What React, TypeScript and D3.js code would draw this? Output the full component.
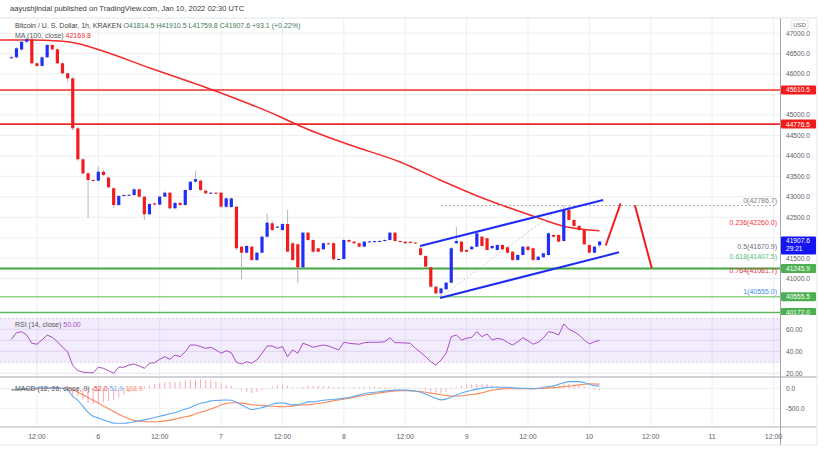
import { useEffect, useRef } from "react";
import * as d3 from "d3";

// hours are counted from Jan 6 00:00 UTC, first candle is Jan 5 07:00
const firstHour = -17;

const opens = [
  46400, 46410, 46600, 46790, 46850, 46263, 46200, 46410, 46710, 46605,
  46263, 46019, 45896, 44674, 43917, 43574, 43411, 43394, 43614, 43470,
  43210, 42800, 43020, 43040, 43044, 43184, 43003, 42572, 42841, 42810,
  43003, 43100, 42719, 42850, 42800, 43166, 43369, 43394, 43149, 43086,
  43100, 43100, 42758, 42750, 42758, 41781, 41634, 41781, 41456, 41634,
  42025, 42353, 42250, 42188, 42335, 41864, 41840, 41277, 42123, 41944,
  41742, 41717, 41864, 41864, 41473, 41480, 41944, 41903, 41864, 41781,
  41903, 41910, 41915, 41920, 41944, 42123, 41920, 41903, 41900, 41880,
  41742, 41553, 41277, 40803, 40642, 40739, 40901, 41864, 41903, 41700,
  41717, 41781, 42025, 41986, 41742, 41700, 41822, 41766, 41658, 41456,
  41578, 41781, 41742, 41456, 41522, 41578, 42067, 42067, 41920, 42678,
  42434, 42287, 42188, 41822, 41634, 41814.5,
];
const highs = [
  46450, 46660, 46830, 46900, 46880, 46290, 46430, 46740, 46740, 46630,
  46300, 46040, 45920, 44713, 43940, 43600, 43430, 43736, 43650, 43490,
  43230, 43040, 43060, 43070, 43210, 43200, 43020, 42850, 42860, 43030,
  43130, 43120, 42870, 42870, 43190, 43390, 43640, 43420, 43170, 43120,
  43120, 43120, 42990, 42990, 42790, 41800, 41820, 41800, 41660, 42050,
  42597, 42420, 42290, 42360, 42680, 41890, 41860, 42150, 42140, 41960,
  41760, 41890, 41880, 41890, 41500, 41970, 41960, 41920, 41880, 41920,
  41930, 41935, 41940, 41960, 42150, 42140, 41935, 41920, 41915, 41895,
  41760, 41570, 41290, 40820, 40780, 40920, 41770, 42260, 41920, 41720,
  41800, 42130, 42050, 42000, 41820, 41840, 41840, 41780, 41670, 41590,
  41800, 41800, 41760, 41550, 41630, 42130, 42090, 42080, 42786.7, 42780,
  42450, 42300, 42200, 41840, 41800, 41910.5,
];
const lows = [
  46370, 46380, 46570, 46760, 46230, 46170, 46180, 46390, 46580, 46240,
  45990, 45810, 44620, 43880, 43540, 42480, 43370, 43380, 43510, 43210,
  42727, 42780, 43000, 43020, 43030, 42980, 42432, 42550, 42790, 42780,
  42990, 42690, 42700, 42780, 42780, 43150, 43350, 43140, 43060, 43070,
  43060, 42730, 42720, 42730, 41700, 40984, 41610, 41420, 41430, 41610,
  42000, 42160, 42230, 42170, 41640, 41430, 40893, 41250, 41920, 41620,
  41640, 41700, 41830, 41440, 41450, 41460, 41890, 41850, 41760, 41770,
  41890, 41895, 41900, 41905, 41930, 41900, 41890, 41850, 41860, 41845,
  41560, 41270, 40780, 40600, 40555.5, 40720, 40880, 41850, 41640, 41640,
  41700, 41760, 41780, 41680, 41730, 41690, 41700, 41620, 41430, 41440,
  41560, 41680, 41430, 41440, 41510, 41560, 42010, 41890, 41900, 42420,
  42270, 42170, 41820, 41620, 41620, 41759.8,
];
const closes = [
  46410, 46630, 46790, 46850, 46263, 46197, 46410, 46710, 46605, 46263,
  46019, 45896, 44674, 43917, 43574, 43411, 43394, 43614, 43533, 43233,
  42800, 43020, 43044, 43050, 43184, 43003, 42572, 42824, 42810, 43003,
  43100, 42719, 42850, 42800, 43166, 43369, 43430, 43166, 43086, 43100,
  43080, 42758, 42963, 42960, 41742, 41634, 41798, 41456, 41634, 42025,
  42367, 42188, 42270, 42335, 41660, 41456, 41277, 42123, 41944, 41658,
  41658, 41864, 41850, 41473, 41480, 41944, 41903, 41864, 41781, 41903,
  41910, 41915, 41920, 41944, 42123, 41920, 41903, 41864, 41870, 41860,
  41578, 41292, 40803, 40642, 40760, 40901, 41742, 41920, 41658, 41658,
  41781, 42108, 41798, 41700, 41798, 41822, 41717, 41634, 41456, 41578,
  41781, 41700, 41456, 41536, 41619, 42108, 42025, 41903, 42678, 42434,
  42287, 42188, 41839, 41634, 41781, 41907.6,
];

const rsiValues = [
  50.9, 56.9, 57.8, 54.8, 47.3, 46.4, 50.3, 54.8, 52.7, 48.7,
  43.6, 39.6, 27.0, 22.4, 21.0, 20.5, 20.5, 25.5, 24.5, 22.4,
  20.0, 25.5, 25.5, 27.5, 28.4, 26.6, 24.5, 29.1, 29.6, 32.7,
  35.1, 32.7, 36.6, 35.1, 39.6, 45.7, 45.7, 44.2, 42.7, 43.6,
  41.2, 38.2, 40.5, 38.7, 30.0, 28.4, 30.5, 29.1, 32.1, 38.2,
  44.8, 44.8, 42.7, 44.2, 35.1, 41.2, 38.2, 47.3, 45.7, 43.6,
  44.8, 45.7, 44.8, 43.0, 41.2, 48.2, 47.3, 46.8, 46.4, 47.8,
  48.2, 48.2, 48.2, 48.7, 52.4, 47.8, 47.8, 47.5, 47.3, 42.7,
  39.0, 35.0, 30.5, 27.5, 32.1, 38.0, 53.3, 54.8, 50.3, 51.8,
  52.7, 57.8, 53.3, 55.7, 50.3, 51.8, 50.9, 48.0, 45.7, 48.7,
  52.4, 49.6, 46.4, 48.2, 52.0, 57.8, 56.9, 54.8, 64.8, 60.0,
  57.8, 54.8, 50.3, 46.6, 48.7, 50.0,
];

const macdValues = [
  -40, -30, -20, -10, 0, 5, 10, 10, 10, 5,
  0, -42, -200, -300, -450, -600, -700, -740, -790, -830,
  -870, -875, -875, -860, -835, -810, -790, -760, -730, -700,
  -670, -635, -610, -570, -520, -480, -420, -375, -350, -315,
  -305, -300, -292, -300, -350, -420, -480, -530, -510, -480,
  -450, -400, -370, -360, -390, -415, -410, -380, -340, -340,
  -320, -300, -285, -275, -265, -245, -230, -200, -170, -135,
  -115, -100, -85, -70, -55, -45, -42, -45, -55, -67,
  -100, -150, -200, -250, -290, -270, -220, -167, -120, -80,
  -50, -20, 0, 25, 25, 25, 25, 25, 15, 5,
  0, -5, -10, 0, 20, 45, 60, 100, 140, 167,
  167, 167, 140, 100, 67, 51.9,
];
const signalValues = [
  -40, -35, -30, -25, -20, -15, -10, -5, 0, 0,
  0, 0, -30, -100, -160, -230, -300, -370, -440, -510,
  -580, -650, -710, -760, -800, -825, -835, -835, -835, -830,
  -815, -795, -770, -740, -710, -690, -640, -600, -560, -520,
  -470, -420, -380, -360, -360, -370, -390, -410, -420, -430,
  -440, -450, -455, -460, -455, -440, -425, -417, -410, -400,
  -380, -360, -335, -310, -292, -270, -250, -225, -200, -175,
  -155, -135, -115, -95, -80, -65, -58, -60, -65, -67,
  -80, -100, -120, -140, -160, -180, -192, -192, -185, -170,
  -155, -140, -110, -80, -50, -30, -15, -10, -10, -10,
  -10, -10, -10, -5, 0, 10, 17, 30, 45, 55,
  70, 85, 100, 110, 108, 103.9,
];

const maHours = [-19.2, -13.4, -7.5, -3.6, 0.3, 10.1, 23.2, 35.5, 39.4, 49.2, 59, 66.8, 74.6, 84.4, 91.6, 98];
const maValues = [46833, 46833, 46808, 46735, 46588, 46148, 45574, 44958, 44731, 44266, 43851, 43411, 42995, 42555, 42262, 42169.8];

const resistanceLevels = [45610.5, 44776.5];
const supportLevels = [41245.9, 40555.5, 40172.0];

const fibRatios = ["0", "0.236", "0.5", "0.618", "0.764", "1"];
const fibPrices = [42786.7, 42260.0, 41670.9, 41407.5, 41081.7, 40555.0];
const fibLowPoint: [number, number] = [67, 40555.0];
const fibHighPoint: [number, number] = [91, 42786.7];
const fibEndHour = 132.3;

const channelUpper: [number, number][] = [[62.9, 41797], [98.7, 42922]];
const channelLower: [number, number][] = [[66.8, 40526], [101.8, 41643]];
const projectionUp: [number, number][] = [[99.2, 41810], [102.1, 42836]];
const projectionDown: [number, number][] = [[104.9, 42795], [108.2, 41259]];

const priceTicks = [41000, 41500, 42000, 42500, 43000, 43500, 44000, 44500, 45000, 45500, 46000, 46500, 47000];
const rsiTicks = [60, 40, 20];
const macdTicks = [0, -500];
const timeTickHours = [-12, 0, 12, 24, 36, 48, 60, 72, 84, 96, 108, 120, 132];
const timeTickLabels = ["12:00", "6", "12:00", "7", "12:00", "8", "12:00", "9", "12:00", "10", "12:00", "11", "12:00"];

export default function App() {
  const svgRef = useRef<SVGSVGElement>(null);

  useEffect(() => {
    if (!svgRef.current) return;
    const svg = d3.select(svgRef.current);
    svg.selectAll("*").remove();

    const font = "'Liberation Sans', Arial, sans-serif";
    const plotRight = 780;
    const axisRight = 817;
    const mainTop = 18, mainBottom = 315, rsiBottom = 377, macdBottom = 427, frameBottom = 445;

    const upColor = "#1f2ff5";
    const downColor = "#f21c1c";
    const gridColor = "#eceef2";
    const axisText = "#5d606b";

    const x = d3.scaleLinear().domain([-19.22, 133.27]).range([0, plotRight]);
    const y = d3.scaleLinear().domain([40110.6, 47370.5]).range([mainBottom, mainTop]);
    const yR = d3.scaleLinear().domain([16.6, 73]).range([rsiBottom, mainBottom]);
    const yM = d3.scaleLinear().domain([-967.5, 282.5]).range([macdBottom, rsiBottom]);
    const hourOf = (i: number) => firstHour + i;

    svg.append("rect").attr("width", 831).attr("height", 452).attr("fill", "#fff");

    const defs = svg.append("defs");
    const clip = (id: string, y0: number, y1: number, x1 = plotRight) =>
      defs.append("clipPath").attr("id", id).append("rect")
        .attr("x", 0).attr("y", y0).attr("width", x1).attr("height", y1 - y0);
    clip("mainClip", mainTop, mainBottom);
    clip("rsiClip", mainBottom, rsiBottom);
    clip("macdClip", rsiBottom, macdBottom);
    clip("mainAxisClip", mainTop, mainBottom, axisRight);

    // header
    svg.append("text")
      .attr("x", 10).attr("y", 10.5)
      .style("font-family", font).style("font-size", "7.6px").style("fill", "#3a3a3a")
      .text("aayushjindal published on TradingView.com, Jan 10, 2022 02:30 UTC");

    // grid
    const grid = svg.append("g");
    timeTickHours.forEach(h => {
      grid.append("line")
        .attr("x1", x(h)).attr("x2", x(h)).attr("y1", mainTop).attr("y2", macdBottom)
        .style("stroke", gridColor).style("stroke-width", 1);
    });
    priceTicks.forEach(p => {
      grid.append("line")
        .attr("x1", 0).attr("x2", plotRight).attr("y1", y(p)).attr("y2", y(p))
        .style("stroke", gridColor).style("stroke-width", 1);
    });

    // RSI band
    svg.append("rect")
      .attr("x", 0).attr("width", plotRight)
      .attr("y", yR(70)).attr("height", yR(30) - yR(70))
      .style("fill", "#8e44ec").style("opacity", 0.1);
    [70, 30].forEach(v => {
      svg.append("line")
        .attr("x1", 0).attr("x2", plotRight).attr("y1", yR(v)).attr("y2", yR(v))
        .style("stroke", "#c9b6e8").style("stroke-width", 0.6).style("stroke-dasharray", "2,2");
    });
    rsiTicks.concat([50]).forEach(v => {
      grid.append("line")
        .attr("x1", 0).attr("x2", plotRight).attr("y1", yR(v)).attr("y2", yR(v))
        .style("stroke", "#e2dcef").style("stroke-width", 0.8);
    });
    macdTicks.forEach(v => {
      grid.append("line")
        .attr("x1", 0).attr("x2", plotRight).attr("y1", yM(v)).attr("y2", yM(v))
        .style("stroke", gridColor).style("stroke-width", 1);
    });

    const main = svg.append("g").attr("clip-path", "url(#mainClip)");

    // horizontal levels
    resistanceLevels.forEach(p => {
      main.append("line")
        .attr("x1", 0).attr("x2", plotRight).attr("y1", y(p)).attr("y2", y(p))
        .style("stroke", "#f22a2a").style("stroke-width", 1.6);
    });
    const supportStyle = [
      { c: "#43a83f", w: 2 },
      { c: "#8fd08c", w: 1.6 },
      { c: "#5cb85c", w: 1.6 },
    ];
    supportLevels.forEach((p, i) => {
      main.append("line")
        .attr("x1", 0).attr("x2", plotRight).attr("y1", y(p)).attr("y2", y(p))
        .style("stroke", supportStyle[i].c).style("stroke-width", supportStyle[i].w);
    });

    // moving average
    const maLine = d3.line<number>()
      .x((_, i) => x(maHours[i]))
      .y(d => y(d))
      .curve(d3.curveMonotoneX);
    main.append("path")
      .datum(maValues)
      .attr("d", maLine)
      .style("fill", "none").style("stroke", "#f22a2a").style("stroke-width", 1.5);

    // fibonacci
    main.append("line")
      .attr("x1", x(fibLowPoint[0])).attr("y1", y(fibLowPoint[1]))
      .attr("x2", x(fibHighPoint[0])).attr("y2", y(fibHighPoint[1]))
      .style("stroke", "#b8bbc4").style("stroke-width", 0.8).style("stroke-dasharray", "2,2");
    main.append("line")
      .attr("x1", x(fibLowPoint[0])).attr("x2", x(fibEndHour))
      .attr("y1", y(fibPrices[0])).attr("y2", y(fibPrices[0]))
      .style("stroke", "#9598a1").style("stroke-width", 0.8).style("stroke-dasharray", "2,2");
    const fibColors = ["#787b86", "#f23645", "#6a6d78", "#5cbf7a", "#e0303e", "#3f8fe8"];
    fibRatios.forEach((r, i) => {
      svg.append("text")
        .attr("x", x(fibEndHour) + 2).attr("y", y(fibPrices[i]) - 2.5)
        .attr("text-anchor", "end")
        .style("font-family", font).style("font-size", "7px").style("fill", fibColors[i])
        .text(`${r}(${fibPrices[i].toFixed(1)})`);
    });

    // candles
    const bodyW = 3.2;
    const candles = main.append("g");
    closes.forEach((c, i) => {
      const o = opens[i];
      const cx = x(hourOf(i));
      const up = c >= o;
      candles.append("line")
        .attr("x1", cx).attr("x2", cx).attr("y1", y(highs[i])).attr("y2", y(lows[i]))
        .style("stroke", "#a3a6ad").style("stroke-width", 0.8);
      const top = y(Math.max(o, c));
      const h = Math.max(1, Math.abs(y(o) - y(c)));
      candles.append("rect")
        .attr("x", cx - bodyW / 2).attr("y", top).attr("width", bodyW).attr("height", h)
        .style("fill", up ? upColor : downColor);
    });

    // channel and projection
    const seg = d3.line<[number, number]>().x(d => x(d[0])).y(d => y(d[1]));
    [channelUpper, channelLower].forEach(pts => {
      main.append("path").attr("d", seg(pts))
        .style("stroke", "#1e2ef0").style("stroke-width", 2).style("fill", "none");
    });
    [projectionUp, projectionDown].forEach(pts => {
      main.append("path").attr("d", seg(pts))
        .style("stroke", "#f21c1c").style("stroke-width", 2).style("fill", "none");
    });

    // RSI line
    const rsiG = svg.append("g").attr("clip-path", "url(#rsiClip)");
    rsiG.append("path")
      .datum(rsiValues)
      .attr("d", d3.line<number>().x((_, i) => x(hourOf(i))).y(d => yR(d)))
      .style("fill", "none").style("stroke", "#a94bc6").style("stroke-width", 1);

    // MACD
    const macdG = svg.append("g").attr("clip-path", "url(#macdClip)");
    macdValues.forEach((m, i) => {
      const hist = m - signalValues[i];
      macdG.append("line")
        .attr("x1", x(hourOf(i))).attr("x2", x(hourOf(i)))
        .attr("y1", yM(0)).attr("y2", yM(hist))
        .style("stroke", "#f5909f").style("stroke-width", 0.9).style("opacity", 0.85);
    });
    macdG.append("path")
      .datum(signalValues)
      .attr("d", d3.line<number>().x((_, i) => x(hourOf(i))).y(d => yM(d)).curve(d3.curveMonotoneX))
      .style("fill", "none").style("stroke", "#fb8656").style("stroke-width", 1.1);
    macdG.append("path")
      .datum(macdValues)
      .attr("d", d3.line<number>().x((_, i) => x(hourOf(i))).y(d => yM(d)).curve(d3.curveMonotoneX))
      .style("fill", "none").style("stroke", "#5ea9f3").style("stroke-width", 1.1);

    // frame and separators
    const sep = (x1: number, y1: number, x2: number, y2: number, c: string, w: number) =>
      svg.append("line").attr("x1", x1).attr("y1", y1).attr("x2", x2).attr("y2", y2)
        .style("stroke", c).style("stroke-width", w);
    sep(0, mainTop, axisRight, mainTop, "#e0e3eb", 1);
    sep(0, rsiBottom, axisRight, rsiBottom, "#a3a6af", 1.2);
    sep(0, macdBottom, axisRight, macdBottom, "#d6d8de", 2);
    sep(0, frameBottom, axisRight, frameBottom, "#e6e8ec", 1);
    sep(plotRight + 0.5, mainTop, plotRight + 0.5, frameBottom, "#a3a6af", 1);
    sep(axisRight, mainTop, axisRight, frameBottom, "#e6e8ec", 1);

    // legends
    const last = closes.length - 1;
    const change = closes[last] - opens[last];
    const legend1 = svg.append("text")
      .attr("x", 15).attr("y", 28)
      .style("font-family", font).style("font-size", "7px");
    legend1.append("tspan").style("fill", "#444").text("Bitcoin / U. S. Dollar, 1h, KRAKEN  ");
    legend1.append("tspan").style("fill", "#3d7a55")
      .text(`O${opens[last].toFixed(1)}  H${highs[last].toFixed(1)}  L${lows[last].toFixed(1)}  C${closes[last].toFixed(1)}  +${change.toFixed(1)} (+${(change / opens[last] * 100).toFixed(2)}%)`);

    const legend2 = svg.append("text")
      .attr("x", 15).attr("y", 38)
      .style("font-family", font).style("font-size", "7px");
    legend2.append("tspan").style("fill", "#555").text("MA (100, close)  ");
    legend2.append("tspan").style("fill", "#f22a2a").text(maValues[maValues.length - 1].toFixed(1));

    const legend3 = svg.append("text")
      .attr("x", 15).attr("y", 327)
      .style("font-family", font).style("font-size", "7px");
    legend3.append("tspan").style("fill", "#555").text("RSI (14, close)  ");
    legend3.append("tspan").style("fill", "#a94bc6").text(rsiValues[last].toFixed(2));

    const legend4 = svg.append("text")
      .attr("x", 15).attr("y", 390.5)
      .style("font-family", font).style("font-size", "7px");
    legend4.append("tspan").style("fill", "#555").text("MACD (12, 26, close, 9)  ");
    legend4.append("tspan").style("fill", "#f23645").text((macdValues[last] - signalValues[last]).toFixed(1) + "  ");
    legend4.append("tspan").style("fill", "#5ea9f3").text(macdValues[last].toFixed(1) + "  ");
    legend4.append("tspan").style("fill", "#fb8656").text(signalValues[last].toFixed(1));

    // price axis
    const axisG = svg.append("g").attr("clip-path", "url(#mainAxisClip)");
    const boxSpans: [number, number][] = [];
    resistanceLevels.concat(supportLevels).forEach(p => boxSpans.push([y(p) - 4.5, y(p) + 4.5]));
    boxSpans.push([y(closes[last]) - 5, y(closes[last]) + 13]);
    priceTicks.forEach(p => {
      const ty = y(p);
      if (boxSpans.some(([a, b]) => ty > a - 3 && ty < b + 2)) return;
      axisG.append("text")
        .attr("x", 786).attr("y", ty + 2.4)
        .style("font-family", font).style("font-size", "6.6px").style("fill", axisText)
        .text(p.toFixed(1));
    });
    const priceBox = (p: number, color: string, extra?: string) => {
      const hgt = extra ? 18 : 9;
      const top = extra ? y(p) - 5 : y(p) - 4.5;
      axisG.append("rect")
        .attr("x", plotRight + 1).attr("y", top).attr("width", axisRight - plotRight - 2).attr("height", hgt)
        .attr("rx", 1).style("fill", color);
      axisG.append("text")
        .attr("x", 786).attr("y", top + 6.9)
        .style("font-family", font).style("font-size", "6.6px").style("fill", "#fff")
        .text(p.toFixed(1));
      if (extra) {
        axisG.append("text")
          .attr("x", 786).attr("y", top + 14.8)
          .style("font-family", font).style("font-size", "6.6px").style("fill", "#fff")
          .text(extra);
      }
    };
    resistanceLevels.forEach(p => priceBox(p, "#f21c1c"));
    supportLevels.forEach(p => priceBox(p, "#4caf50"));
    priceBox(closes[last], "#1414f5", "29:21");

    svg.append("rect")
      .attr("x", 791).attr("y", 20).attr("width", 17).attr("height", 9).attr("rx", 2)
      .style("fill", "#fff").style("stroke", "#d0d3da").style("stroke-width", 0.6);
    svg.append("text")
      .attr("x", 799.5).attr("y", 26.8).attr("text-anchor", "middle")
      .style("font-family", font).style("font-size", "6px").style("fill", axisText)
      .text("USD");

    rsiTicks.forEach(v => {
      svg.append("text")
        .attr("x", 786).attr("y", yR(v) + 2.4)
        .style("font-family", font).style("font-size", "6.6px").style("fill", axisText)
        .text(v.toFixed(2));
    });
    macdTicks.forEach(v => {
      svg.append("text")
        .attr("x", 786).attr("y", yM(v) + 2.4)
        .style("font-family", font).style("font-size", "6.6px").style("fill", axisText)
        .text(v.toFixed(1));
    });

    // time axis
    timeTickHours.forEach((h, i) => {
      svg.append("text")
        .attr("x", x(h)).attr("y", 438.5).attr("text-anchor", "middle")
        .style("font-family", font).style("font-size", "7px").style("fill", axisText)
        .text(timeTickLabels[i]);
    });
  }, []);

  return (
    <>
      <style>{"body{margin:0}"}</style>
      <svg ref={svgRef} width={831} height={452} style={{ display: "block" }} />
    </>
  );
}
